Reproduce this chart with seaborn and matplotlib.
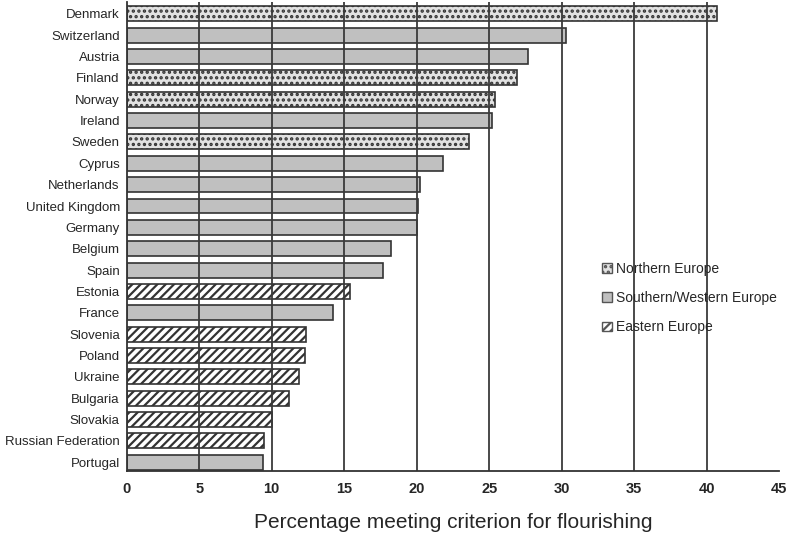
import pandas as pd
import seaborn as sns
import matplotlib.pyplot as plt
from matplotlib.patches import Patch

countries = ["Denmark", "Switzerland", "Austria", "Finland", "Norway", "Ireland",
             "Sweden", "Cyprus", "Netherlands", "United Kingdom", "Germany",
             "Belgium", "Spain", "Estonia", "France", "Slovenia", "Poland",
             "Ukraine", "Bulgaria", "Slovakia", "Russian Federation", "Portugal"]
values = [40.7, 30.3, 27.7, 26.9, 25.4, 25.2, 23.6, 21.8, 20.2, 20.1, 20.0,
          18.2, 17.7, 15.4, 14.2, 12.4, 12.3, 11.9, 11.2, 10.0, 9.5, 9.4]
regions = ["N", "SW", "SW", "N", "N", "SW", "N", "SW", "SW", "SW", "SW",
           "SW", "SW", "E", "SW", "E", "E", "E", "E", "E", "E", "SW"]
region_names = {"N": "Northern Europe", "SW": "Southern/Western Europe",
                "E": "Eastern Europe"}
x_ticks = [0, 5, 10, 15, 20, 25, 30, 35, 40, 45]

styles = {"N": ("#e2e2e2", "..."), "SW": ("#c0c0c0", ""), "E": ("white", "////")}

df = pd.DataFrame({"country": countries, "value": values, "region": regions})

sns.set_style("white")
plt.rcParams["font.family"] = ["Liberation Sans", "DejaVu Sans"]
plt.rcParams["hatch.linewidth"] = 1.6

fig = plt.figure(figsize=(7.87, 5.36), dpi=100)
ax = fig.add_axes([0.161, 0.121, 0.829, 0.875])

# gridlines show through the bars in the original
for x in x_ticks[1:-1]:
    ax.axvline(x, color="#3a3a3a", lw=1.3, zorder=3)

sns.barplot(data=df, x="value", y="country", hue="region", dodge=False,
            order=countries, hue_order=["N", "SW", "E"], width=0.7,
            palette={k: v[0] for k, v in styles.items()}, legend=False,
            edgecolor="#333333", linewidth=1.2, ax=ax, zorder=2)

for p in ax.patches:
    idx = int(round(p.get_y() + p.get_height() / 2))
    if 0 <= idx < len(countries):
        fc, h = styles[regions[idx]]
        p.set_hatch(h)
        p.set_facecolor(fc)

ax.set_xlim(0, 45)
ax.set_ylim(len(countries) - 0.58, -0.55)
ax.set_xticks(x_ticks)
ax.set_xticklabels([str(t) for t in x_ticks], fontsize=10.5, fontweight="bold",
                   family=["DejaVu Sans Condensed", "Liberation Sans"])
ax.tick_params(axis="y", labelsize=9.5, length=0, pad=5)
ax.tick_params(axis="x", length=0, pad=8)
ax.set_ylabel("")
ax.set_xlabel("Percentage meeting criterion for flourishing", fontsize=15,
              labelpad=12, family=["Liberation Sans Narrow", "Liberation Sans"])
for s in ["top", "right"]:
    ax.spines[s].set_visible(False)
for s in ["left", "bottom"]:
    ax.spines[s].set_color("#333333")
    ax.spines[s].set_linewidth(1.3)
    ax.spines[s].set_zorder(4)

handles = [Patch(facecolor=styles[k][0], hatch=styles[k][1], edgecolor="#555555",
                 label=region_names[k]) for k in ["N", "SW", "E"]]
leg = ax.legend(handles=handles, loc="upper left", bbox_to_anchor=(0.71, 0.473),
                frameon=False, fontsize=10, handlelength=0.7, handleheight=0.7,
                handletextpad=0.3, labelspacing=1.1)
leg.set_zorder(5)

fig.savefig("out.png", dpi=100)
